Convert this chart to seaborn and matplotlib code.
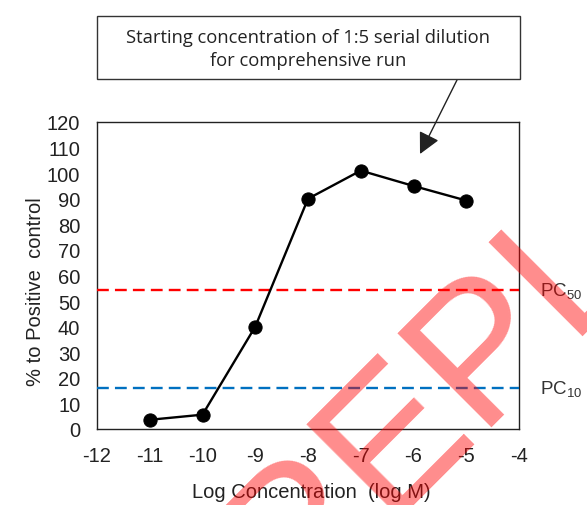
import matplotlib
matplotlib.use('Agg')
import matplotlib.pyplot as plt
import seaborn as sns
import pandas as pd
from matplotlib.patches import Rectangle

# ---- data ----
log_conc = [-11, -10, -9, -8, -7, -6, -5]
pct_positive = [3.6, 5.6, 40.0, 90.0, 101.0, 95.0, 89.3]
pc50_level = 54.3
pc10_level = 16.2
x_ticks = [-12, -11, -10, -9, -8, -7, -6, -5, -4]
y_ticks = [0, 10, 20, 30, 40, 50, 60, 70, 80, 90, 100, 110, 120]
pc_labels = ["PC$_{50}$", "PC$_{10}$"]
note_text = "Starting concentration of 1:5 serial dilution\nfor comprehensive run"
x_label = "Log Concentration  (log M)"
y_label = "% to Positive  control"
watermark = "REPLACE"

sns.set_style('white')
plt.rcParams['font.family'] = ['Liberation Sans', 'DejaVu Sans']
plt.rcParams['mathtext.default'] = 'regular'

W, H = 587, 506
fig = plt.figure(figsize=(W / 100, H / 100), dpi=100)
fig.patch.set_facecolor('white')

L, R, T, B = 97, 519, 123, 430
ax = fig.add_axes([L / W, 1 - B / H, (R - L) / W, (B - T) / H])

df = pd.DataFrame({"x": log_conc, "y": pct_positive})
sns.lineplot(data=df, x="x", y="y", ax=ax, color="black", linewidth=1.7,
             marker="o", markersize=9.5, markeredgecolor="black",
             markerfacecolor="black", zorder=5)

ax.axhline(pc50_level, color="#FF0000", lw=1.7, ls=(0, (5, 2.6)), clip_on=False, zorder=3)
ax.axhline(pc10_level, color="#0070C0", lw=1.7, ls=(0, (5, 2.6)), clip_on=False, zorder=3)

ax.set_xlim(x_ticks[0], x_ticks[-1])
ax.set_ylim(y_ticks[0], y_ticks[-1])
ax.set_xticks(x_ticks)
ax.set_yticks(y_ticks)
ax.set_xticklabels([str(v) for v in x_ticks])
ax.tick_params(axis='both', length=0, labelsize=14.5, colors='#222222')
ax.tick_params(axis='x', pad=12)
ax.tick_params(axis='y', pad=12)
for s in ax.spines.values():
    s.set_visible(True)
    s.set_color('#222222')
    s.set_linewidth(1.0)

ax.set_xlabel(x_label, fontsize=14.5, color='#222222')
ax.set_ylabel(y_label, fontsize=14.5, color='#222222')
ax.xaxis.set_label_coords((311 - L) / (R - L), (B - 493) / (B - T))
ax.yaxis.set_label_coords((36 - L) / (R - L), (B - 292) / (B - T))
ax.xaxis.label.set_va('center')
ax.yaxis.label.set_va('center')

# PC labels outside the axes on the right
for lab, lvl in zip(pc_labels, [pc50_level, pc10_level]):
    ax.text(1.05, lvl, lab, transform=ax.get_yaxis_transform(), fontsize=13.5,
            color='#333333', va='center', ha='left')

# annotation box
bx0, by0, bx1, by1 = 97, 17, 520, 80
fig.add_artist(Rectangle((bx0 / W, 1 - by1 / H), (bx1 - bx0) / W, (by1 - by0) / H,
                         transform=fig.transFigure, fill=False, ec='#333333', lw=1.0))
fig.text((bx0 + bx1) / 2 / W, 1 - 49.5 / H, note_text, ha='center', va='center',
         fontsize=13.2, color='#222222', family=['Open Sans', 'DejaVu Sans'],
         linespacing=1.3)
ax.annotate('', xy=(420 / W, 1 - 155 / H), xycoords='figure fraction',
            xytext=(457 / W, 1 - 81 / H), textcoords='figure fraction',
            arrowprops=dict(arrowstyle='-|>,head_length=0.65,head_width=0.33',
                            color='#222222', lw=1.0, mutation_scale=20,
                            shrinkA=0, shrinkB=0))

# watermark
fig.text(287 / W, 1 - 617 / H, watermark, rotation=45, rotation_mode='anchor',
         ha='left', va='baseline', fontsize=139, color='#FF0000', alpha=0.45,
         zorder=10)

fig.savefig('out.png', dpi=100)
